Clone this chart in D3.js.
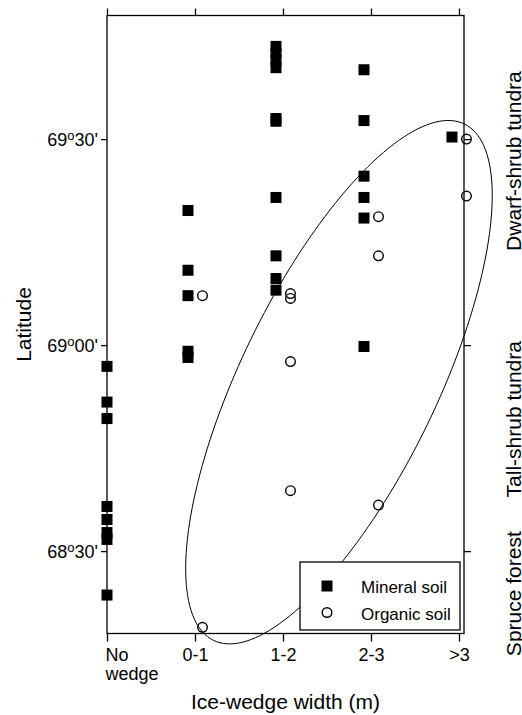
<!DOCTYPE html>
<html>
<head>
<meta charset="utf-8">
<script src="https://cdn.jsdelivr.net/npm/d3@7"></script>
<style>
body { margin: 0; background: #fff; }
svg { font-family: "Liberation Sans", Arial, Helvetica, sans-serif; }
</style>
</head>
<body>
<div id="chart"></div>
<script>
var categories = ["No wedge", "0-1", "1-2", "2-3", ">3"];
// latitude given as minutes north of 68°00'
var mineralSoil = [
  {cat: "No wedge", lat: [56.9, 51.7, 49.3, 36.5, 34.6, 32.7, 31.7, 23.6]},
  {cat: "0-1", lat: [79.6, 70.9, 67.2, 59.1, 58.2]},
  {cat: "1-2", lat: [103.5, 102.5, 101.5, 100.4, 93.0, 92.6, 81.5, 73.0, 69.7, 68.0]},
  {cat: "2-3", lat: [100.1, 92.7, 84.6, 81.5, 78.5, 59.8]},
  {cat: ">3", lat: [90.3]}
];
var organicSoil = [
  {cat: "0-1", lat: [67.2, 18.9]},
  {cat: "1-2", lat: [67.5, 66.8, 57.6, 38.8]},
  {cat: "2-3", lat: [78.7, 73.0, 36.7]},
  {cat: ">3", lat: [90.0, 81.7]}
];
var latTicks = [30, 60, 90];
var zoneNames = ["Dwarf-shrub tundra", "Tall-shrub tundra", "Spruce forest"];
var zoneMid = [86.8, 49.2, 23.8];
// ellipse: centre and two conjugate half-axes, in (category index, minutes)
var ellipseCenter = [2.636, 54.6],
    ellipseAxisA = [1.425, 37.6],
    ellipseAxisB = [1.002, -6.23];

var outerWidth = 522, outerHeight = 715,
    plotLeft = 107, plotRight = 464, plotTop = 15.5, plotBottom = 633.5;

var x = d3.scaleLinear().domain([0, 4.057]).range([plotLeft, plotRight]),
    y = d3.scaleLinear().domain([18, 108]).range([plotBottom, plotTop]);

var svg = d3.select("#chart").append("svg")
    .attr("width", outerWidth)
    .attr("height", outerHeight);

function catIndex(c) { return categories.indexOf(c); }

// flatten series
var mineralPts = [], organicPts = [];
mineralSoil.forEach(function(s) {
  s.lat.forEach(function(v) { mineralPts.push({i: catIndex(s.cat), lat: v}); });
});
organicSoil.forEach(function(s) {
  s.lat.forEach(function(v) { organicPts.push({i: catIndex(s.cat), lat: v}); });
});

// ellipse
var ellipsePts = d3.range(0, 361, 2).map(function(a) {
  var t = a * Math.PI / 180;
  return [ellipseCenter[0] + ellipseAxisA[0] * Math.cos(t) + ellipseAxisB[0] * Math.sin(t),
          ellipseCenter[1] + ellipseAxisA[1] * Math.cos(t) + ellipseAxisB[1] * Math.sin(t)];
});
svg.append("path")
  .datum(ellipsePts)
  .attr("d", d3.line().x(function(d) { return x(d[0]); }).y(function(d) { return y(d[1]); }).curve(d3.curveLinearClosed))
  .style("fill", "none")
  .style("stroke", "#000")
  .style("stroke-width", 1);

// axes (ticks only, frame drawn separately)
var tickIdx = d3.range(categories.length);
var xBottom = svg.append("g")
  .attr("transform", "translate(0," + plotBottom + ")")
  .call(d3.axisBottom(x).tickValues(tickIdx).tickSize(8).tickPadding(7)
    .tickFormat(function(i) { return categories[i]; }));
var xTop = svg.append("g")
  .attr("transform", "translate(0," + plotTop + ")")
  .call(d3.axisTop(x).tickValues(tickIdx).tickSize(7).tickFormat(""));
var yLeft = svg.append("g")
  .attr("transform", "translate(" + plotLeft + ",0)")
  .call(d3.axisLeft(y).tickValues(latTicks).tickSize(6).tickFormat(""));
var yRight = svg.append("g")
  .attr("transform", "translate(" + plotRight + ",0)")
  .call(d3.axisRight(y).tickValues(latTicks).tickSize(7).tickFormat(""));

[xBottom, xTop, yLeft, yRight].forEach(function(g) {
  g.select(".domain").remove();
  g.selectAll(".tick line").style("stroke", "#000").style("stroke-width", 1.3);
});

xBottom.selectAll(".tick text")
  .style("font-size", "18px")
  .style("fill", "#000")
  .each(function(i) {
    var t = d3.select(this);
    if (categories[i] === "No wedge") {
      t.text(null).attr("text-anchor", "start").attr("x", -2);
      t.append("tspan").attr("x", -2).attr("dy", "0.71em").text("No");
      t.append("tspan").attr("x", -2).attr("dy", "1.05em").text("wedge");
    }
  });

// latitude tick labels with a raised "o"
yLeft.selectAll(".tick").each(function(m) {
  var deg = 68 + Math.floor(m / 60),
      min = String(m % 60).padStart(2, "0");
  var t = d3.select(this).append("text")
    .attr("x", -9)
    .attr("dy", "0.35em")
    .attr("text-anchor", "end")
    .style("font-size", "18px")
    .style("fill", "#000");
  t.append("tspan").text(deg);
  t.append("tspan").style("font-size", "13px").attr("dy", -6).text("o");
  t.append("tspan").attr("dy", 6).text(min + "'");
});

// frame
svg.append("rect")
  .attr("x", plotLeft).attr("y", plotTop)
  .attr("width", plotRight - plotLeft).attr("height", plotBottom - plotTop)
  .style("fill", "none")
  .style("stroke", "#000")
  .style("stroke-width", 1.3);

// points
var shift = {mineral: -7, organic: 7.5};
function px(d, type) { return x(d.i) + (d.i === 0 ? 0 : shift[type]); }

svg.selectAll(".mineral")
  .data(mineralPts)
  .enter().append("rect")
  .attr("class", "mineral")
  .attr("x", function(d) { return px(d, "mineral") - 5.5; })
  .attr("y", function(d) { return y(d.lat) - 5.5; })
  .attr("width", 11)
  .attr("height", 11)
  .style("fill", "#000");

svg.selectAll(".organic")
  .data(organicPts)
  .enter().append("circle")
  .attr("class", "organic")
  .attr("cx", function(d) { return px(d, "organic"); })
  .attr("cy", function(d) { return y(d.lat); })
  .attr("r", 4.8)
  .style("fill", "none")
  .style("stroke", "#000")
  .style("stroke-width", 1.4);

// axis titles
svg.append("text")
  .attr("x", (plotLeft + plotRight) / 2)
  .attr("y", 709)
  .attr("text-anchor", "middle")
  .style("font-size", "21px")
  .text("Ice-wedge width (m)");

svg.append("text")
  .attr("transform", "translate(31," + (plotTop + plotBottom) / 2 + ") rotate(-90)")
  .attr("text-anchor", "middle")
  .style("font-size", "21px")
  .text("Latitude");

// vegetation zones on the right
svg.selectAll(".zone")
  .data(zoneNames)
  .enter().append("text")
  .attr("class", "zone")
  .attr("transform", function(d, i) { return "translate(521," + y(zoneMid[i]) + ") rotate(-90)"; })
  .attr("text-anchor", "middle")
  .style("font-size", "21px")
  .text(function(d) { return d; });

// legend
var legend = svg.append("g")
  .attr("transform", "translate(300,562)");
legend.append("rect")
  .attr("width", 160).attr("height", 68)
  .style("fill", "#fff")
  .style("stroke", "#000")
  .style("stroke-width", 1.3);
legend.append("rect")
  .attr("x", 21.5).attr("y", 18.5).attr("width", 11).attr("height", 11)
  .style("fill", "#000");
legend.append("circle")
  .attr("cx", 27).attr("cy", 50.5).attr("r", 4.8)
  .style("fill", "none").style("stroke", "#000").style("stroke-width", 1.4);
legend.append("text")
  .attr("x", 61).attr("y", 31)
  .style("font-size", "17px")
  .text("Mineral soil");
legend.append("text")
  .attr("x", 61).attr("y", 58)
  .style("font-size", "17px")
  .text("Organic soil");
</script>
</body>
</html>
